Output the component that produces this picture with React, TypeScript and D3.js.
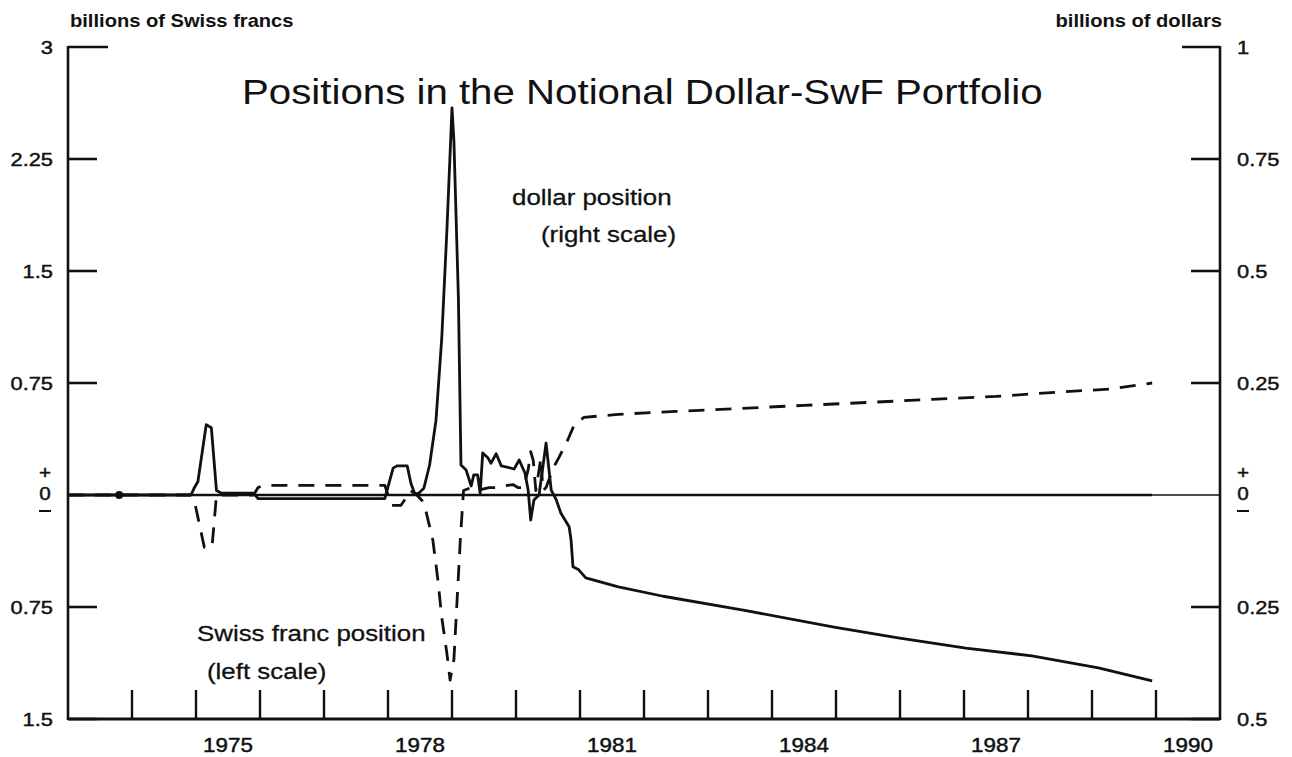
import React from "react";
import * as d3 from "d3";

const W = 1292;
const H = 757;

// ---------- data ----------
const yearBoundaries = d3.range(1974, 1991);
const yearLabels = [1975, 1978, 1981, 1984, 1987, 1990];
const leftTicks = [3, 2.25, 1.5, 0.75, -0.75, -1.5];
const leftTickText = ["3", "2.25", "1.5", "0.75", "0.75", "1.5"];
const rightTicks = [1, 0.75, 0.5, 0.25, -0.25, -0.5];
const rightTickText = ["1", "0.75", "0.5", "0.25", "0.25", "0.5"];

// dollar position, billions of dollars (right scale) — solid line
const dollarPosition: [number, number][] = [
  [1973.0, 0], [1974.92, 0], [1974.97, 0.015], [1975.03, 0.03], [1975.16, 0.157],
  [1975.24, 0.15], [1975.32, 0.01], [1975.4, 0.004], [1975.9, 0.004], [1975.97, -0.008],
  [1977.95, -0.008], [1978.08, 0.06], [1978.14, 0.065], [1978.3, 0.065], [1978.36, 0.025],
  [1978.42, 0.002], [1978.48, 0.004], [1978.56, 0.015], [1978.65, 0.067], [1978.75, 0.167],
  [1978.84, 0.35], [1978.92, 0.59], [1979.0, 0.864], [1979.03, 0.79], [1979.1, 0.44],
  [1979.14, 0.067], [1979.22, 0.056], [1979.3, 0.02], [1979.34, 0.045], [1979.4, 0.045],
  [1979.44, 0.004], [1979.48, 0.094], [1979.56, 0.083], [1979.61, 0.071], [1979.69, 0.092],
  [1979.77, 0.065], [1979.84, 0.063], [1979.97, 0.058], [1980.05, 0.078], [1980.14, 0.049],
  [1980.19, 0.011], [1980.23, -0.056], [1980.28, -0.011], [1980.36, 0.0], [1980.47, 0.116],
  [1980.55, 0.011], [1980.63, -0.011], [1980.7, -0.04], [1980.83, -0.071], [1980.86, -0.1],
  [1980.89, -0.16], [1980.98, -0.167], [1981.09, -0.185], [1981.6, -0.205], [1982.3, -0.226],
  [1983.55, -0.257], [1984.97, -0.295], [1985.97, -0.319], [1987.03, -0.342], [1988.06, -0.359],
  [1989.1, -0.386], [1989.94, -0.415],
];

// Swiss franc position, billions of Swiss francs (left scale) — dashed line
const swissFrancPosition: [number, number][] = [
  [1973.0, 0], [1974.92, 0], [1974.97, -0.03], [1975.13, -0.35], [1975.25, -0.35],
  [1975.32, 0], [1975.9, 0], [1975.97, 0.05], [1976.05, 0.065], [1977.95, 0.065],
  [1978.0, 0.0], [1978.06, -0.07], [1978.2, -0.07], [1978.28, -0.02], [1978.35, 0.03],
  [1978.45, 0.0], [1978.56, -0.05], [1978.7, -0.3], [1978.78, -0.57], [1978.84, -0.82],
  [1978.92, -1.06], [1978.97, -1.24], [1979.03, -1.1], [1979.08, -0.7], [1979.13, -0.3],
  [1979.18, 0.03], [1979.3, 0.05], [1979.38, 0.03], [1979.58, 0.05], [1979.73, 0.05],
  [1979.81, 0.06], [1979.95, 0.07], [1980.03, 0.05], [1980.12, 0.05], [1980.19, 0.17],
  [1980.23, 0.29], [1980.27, 0.23], [1980.31, 0.03], [1980.39, 0.25], [1980.42, 0.03],
  [1980.47, 0.05], [1980.58, 0.18], [1980.67, 0.25], [1980.81, 0.37], [1980.91, 0.47],
  [1981.06, 0.52], [1981.6, 0.54], [1982.5, 0.56], [1983.5, 0.58], [1984.5, 0.6],
  [1985.5, 0.62], [1986.5, 0.64], [1987.5, 0.66], [1988.5, 0.69], [1989.3, 0.71],
  [1989.94, 0.75],
];

const markerPoints: [number, number][] = [[1973.8, 0]];

// ---------- layout ----------
const X0 = 68, X1 = 1220, Y0 = 47, Y1 = 719;
const x = d3.scaleLinear().domain([1973, 1991]).range([X0, X1]);
const yL = d3.scaleLinear().domain([-1.5, 3]).range([Y1, Y0]);
const yR = d3.scaleLinear().domain([-0.5, 1]).range([Y1, Y0]);

const FONT = "'Liberation Sans', Arial, Helvetica, sans-serif";
const INK = "#111";

function SText({ x, y, size, anchor = "start", weight = "normal", sx = 1.15, heft = 0.45, children }: any) {
  return (
    <g transform={`translate(${x},${y}) scale(${sx},1)`}>
      <text
        fontSize={size}
        textAnchor={anchor}
        fontWeight={weight}
        fontFamily={FONT}
        fill={INK}
        stroke={heft > 0 ? INK : "none"}
        strokeWidth={heft}
      >
        {children}
      </text>
    </g>
  );
}

export default function App() {
  const dollarLine = d3.line<[number, number]>().x((d) => x(d[0])).y((d) => yR(d[1]))(dollarPosition) || "";
  const swfLine = d3.line<[number, number]>().x((d) => x(d[0])).y((d) => yL(d[1]))(swissFrancPosition) || "";
  const zeroY = yL(0);
  const lastX = x(dollarPosition[dollarPosition.length - 1][0]);

  return (
    <svg width={W} height={H} style={{ position: "absolute", left: 0, top: 0, display: "block", background: "#fff" }}>
      <rect x={0} y={0} width={W} height={H} fill="#fff" />

      {/* title */}
      <SText x={242} y={104} size={35} sx={1.15} heft={0}>Positions in the Notional Dollar-SwF Portfolio</SText>

      {/* unit titles */}
      <SText x={70} y={27} size={17.5} weight="bold" heft={0}>billions of Swiss francs</SText>
      <SText x={1222} y={27} size={17.5} weight="bold" anchor="end" heft={0}>billions of dollars</SText>

      {/* zero line */}
      <line x1={X0} x2={lastX} y1={zeroY} y2={zeroY} stroke={INK} strokeWidth={2.6} />
      <line x1={lastX} x2={X1} y1={zeroY} y2={zeroY} stroke={INK} strokeWidth={1.6} />

      {/* axes */}
      <line x1={X0} x2={X0} y1={Y0 - 1} y2={Y1 + 1} stroke={INK} strokeWidth={2.6} />
      <line x1={X1} x2={X1} y1={Y0 - 1} y2={Y1 + 1} stroke={INK} strokeWidth={2.6} />
      <line x1={X0} x2={X1} y1={Y1} y2={Y1} stroke={INK} strokeWidth={3} />

      {/* left ticks */}
      {leftTicks.map((t, i) => (
        <g key={"lt" + i}>
          <line x1={X0} x2={X0 + (i === 0 ? 40 : 29)} y1={yL(t)} y2={yL(t)} stroke={INK} strokeWidth={2.6} />
          <SText x={53} y={yL(t) + 7} size={19} anchor="end">{leftTickText[i]}</SText>
        </g>
      ))}
      {/* right ticks */}
      {rightTicks.map((t, i) => (
        <g key={"rt" + i}>
          <line x1={X1} x2={X1 - (i === 0 ? 38 : 29)} y1={yR(t)} y2={yR(t)} stroke={INK} strokeWidth={2.6} />
          <SText x={1237} y={yR(t) + 7} size={19}>{rightTickText[i]}</SText>
        </g>
      ))}
      {/* zero labels (+ 0 -) */}
      {[45, 1243].map((cx, i) => (
        <g key={"z" + i}>
          <SText x={cx} y={zeroY - 16} size={18} anchor="middle">+</SText>
          <SText x={cx} y={zeroY + 5} size={18} anchor="middle">0</SText>
          <line x1={cx - 6} x2={cx + 6} y1={zeroY + 16} y2={zeroY + 16} stroke={INK} strokeWidth={2} />
        </g>
      ))}

      {/* bottom ticks */}
      {yearBoundaries.map((yr) => (
        <line key={"bt" + yr} x1={x(yr)} x2={x(yr)} y1={Y1} y2={Y1 - 29} stroke={INK} strokeWidth={2.4} />
      ))}
      {yearLabels.map((yr) => (
        <SText key={"yl" + yr} x={x(yr + 0.5)} y={752} size={19.5} anchor="middle">{yr}</SText>
      ))}

      {/* series */}
      <path d={swfLine} fill="none" stroke={INK} strokeWidth={2.8} strokeDasharray="16,11" strokeLinejoin="round" />
      <path d={dollarLine} fill="none" stroke={INK} strokeWidth={2.8} strokeLinejoin="round" />
      {markerPoints.map((p, i) => (
        <circle key={"m" + i} cx={x(p[0])} cy={yL(p[1])} r={4} fill={INK} />
      ))}

      {/* annotations */}
      <SText x={512} y={205} size={22.5} heft={0.3}>dollar position</SText>
      <SText x={541} y={242} size={22.5} heft={0.3}>(right scale)</SText>
      <SText x={197} y={641} size={22.5} heft={0.3}>Swiss franc position</SText>
      <SText x={207} y={679} size={22.5} heft={0.3}>(left scale)</SText>
    </svg>
  );
}
